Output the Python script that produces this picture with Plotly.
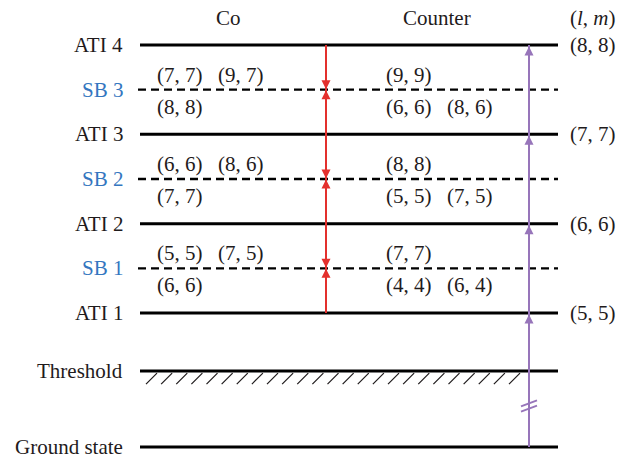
import numpy as np
import plotly.graph_objects as go

# Energy levels (schematic units of half a photon energy; below ATI 1 the axis is broken)
level_names = ["Ground state", "Threshold", "ATI 1", "SB 1", "ATI 2", "SB 2", "ATI 3", "SB 3", "ATI 4"]
level_energy = [1.0, 2.7, 4.0, 5.0, 6.0, 7.0, 8.0, 9.0, 10.0]
level_kind = ["solid", "solid", "solid", "dash", "solid", "dash", "solid", "dash", "solid"]

# (l, m) of each ATI peak
ati_names = ["ATI 1", "ATI 2", "ATI 3", "ATI 4"]
ati_lm = ["(5, 5)", "(6, 6)", "(7, 7)", "(8, 8)"]

# Partial waves reaching each sideband, co- and counter-rotating
sb_names = ["SB 1", "SB 2", "SB 3"]
co_above = [["(5, 5)", "(7, 5)"], ["(6, 6)", "(8, 6)"], ["(7, 7)", "(9, 7)"]]
co_below = [["(6, 6)"], ["(7, 7)"], ["(8, 8)"]]
counter_above = [["(7, 7)"], ["(8, 8)"], ["(9, 9)"]]
counter_below = [["(4, 4)", "(6, 4)"], ["(5, 5)", "(7, 5)"], ["(6, 6)", "(8, 6)"]]

W, H = 630, 460
PX = (313 - 45) / 6.0          # pixels per energy unit
Y_TOP = 4.0 + 313 / PX
Y_BOT = 4.0 - (H - 313) / PX

X0, X1 = 140, 558              # extent of the level lines
X_RED, X_PURPLE = 326, 529
X_LABEL = 125
X_CO, X_COUNTER = (155, 216), (384, 445)

INK = "#1f1b1c"
BLUE = "#3476c0"
RED = "#e3302d"
PURPLE = "#9775ba"
FONT = "Liberation Serif"
FS = 21

E = dict(zip(level_names, level_energy))
fig = go.Figure()

# level lines
for name, e, kind in zip(level_names, level_energy, level_kind):
    if kind == "solid":
        fig.add_trace(go.Scatter(x=[X0, X1], y=[e, e], mode="lines",
                                 line=dict(color="black", width=3), hoverinfo="skip"))
    else:
        fig.add_trace(go.Scatter(x=[X0 - 2, X1], y=[e, e], mode="lines",
                                 line=dict(color="black", width=2.4, dash="8px,5px"),
                                 hoverinfo="skip"))

# hatching under the ionisation threshold
hx, hy = [], []
for x in np.linspace(146, 509, 25):
    hx += [x, x + 11, None]
    hy += [E["Threshold"] - 13 / PX, E["Threshold"] - 2 / PX, None]
fig.add_trace(go.Scatter(x=hx, y=hy, mode="lines", line=dict(color=INK, width=1.2),
                         hoverinfo="skip"))

# red arrows: absorption / emission meeting at each sideband
fig.add_trace(go.Scatter(x=[X_RED, X_RED], y=[E["ATI 1"], E["ATI 4"]], mode="lines",
                         line=dict(color=RED, width=2), hoverinfo="skip"))
sb_e = [E[s] for s in sb_names]
fig.add_trace(go.Scatter(x=[X_RED] * 3, y=[e + 0.5 / PX for e in sb_e], mode="markers",
                         marker=dict(symbol="arrow-down", size=9, color=RED, line=dict(width=0)),
                         hoverinfo="skip"))
fig.add_trace(go.Scatter(x=[X_RED] * 3, y=[e - 0.5 / PX for e in sb_e], mode="markers",
                         marker=dict(symbol="arrow-up", size=9, color=RED, line=dict(width=0)),
                         hoverinfo="skip"))

# purple multiphoton ladder from the ground state
fig.add_trace(go.Scatter(x=[X_PURPLE, X_PURPLE], y=[E["Ground state"], E["ATI 4"]], mode="lines",
                         line=dict(color=PURPLE, width=2), hoverinfo="skip"))
fig.add_trace(go.Scatter(x=[X_PURPLE] * 4, y=[E[a] - 1.5 / PX for a in ati_names], mode="markers",
                         marker=dict(symbol="arrow-up", size=9, color=PURPLE, line=dict(width=0)),
                         hoverinfo="skip"))
# axis-break mark on the ladder
y_brk = E["Ground state"] + (447 - 406) / PX
bx, by = [], []
for d in (-2.6, 2.6):
    bx += [X_PURPLE - 8, X_PURPLE + 8, None]
    by += [y_brk + (d - 3) / PX, y_brk + (d + 3) / PX, None]
fig.add_trace(go.Scatter(x=bx, y=by, mode="lines", line=dict(color=PURPLE, width=2),
                         hoverinfo="skip"))

ann = []


def text(x, y, s, color=INK, xanchor="left"):
    ann.append(dict(x=x, y=y, text=s, showarrow=False, xanchor=xanchor, yanchor="middle",
                    font=dict(family=FONT, size=FS, color=color), xref="x", yref="y"))


# level names
for name, e, kind in zip(level_names, level_energy, level_kind):
    text(X_LABEL, e, name, BLUE if kind == "dash" else INK, "right")

# (l, m) of ATI peaks
for a, lm in zip(ati_names, ati_lm):
    text(568, E[a], lm)

# column headers
text(228, E["ATI 4"] + 27 / PX, "Co", xanchor="center")
text(437, E["ATI 4"] + 27 / PX, "Counter", xanchor="center")
text(568, E["ATI 4"] + 27 / PX, "(<i>l</i>, <i>m</i>)")

# partial waves around each sideband
for s, ca, cb, ua, ub in zip(sb_names, co_above, co_below, counter_above, counter_below):
    for labels, xs, dy in ((ca, X_CO, 15), (cb, X_CO, -17), (ua, X_COUNTER, 15), (ub, X_COUNTER, -17)):
        for lab, x in zip(labels, xs):
            text(x, E[s] + dy / PX, lab)

fig.update_layout(
    width=W, height=H, autosize=False,
    margin=dict(l=0, r=0, t=0, b=0),
    paper_bgcolor="white", plot_bgcolor="white",
    showlegend=False,
    xaxis=dict(range=[0, W], visible=False, fixedrange=True),
    yaxis=dict(range=[Y_BOT, Y_TOP], visible=False, fixedrange=True),
    annotations=ann,
)

fig.write_html("out.html")
